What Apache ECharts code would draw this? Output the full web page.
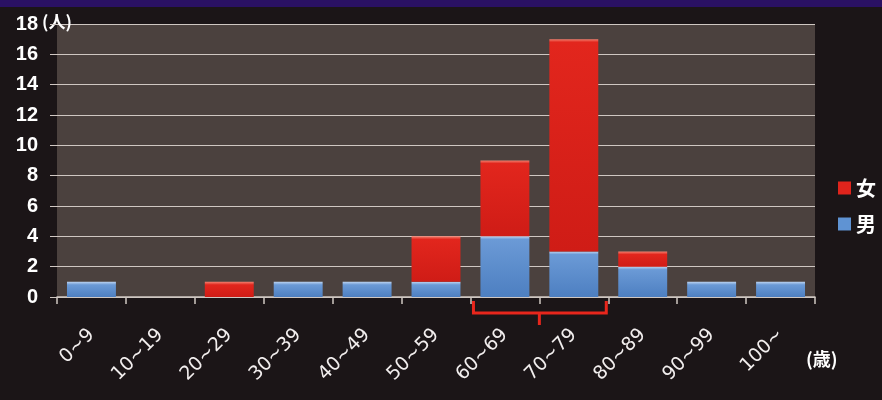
<!DOCTYPE html>
<html>
<head>
<meta charset="utf-8">
<script src="https://cdn.jsdelivr.net/npm/echarts@6/dist/echarts.min.js"></script>
<style>
  html, body { margin: 0; padding: 0; background: #1b1517; }
  #band { position: absolute; left: 0; top: 0; width: 882px; height: 7px; background: #2a1163; }
  #chart { width: 882px; height: 400px; }
</style>
</head>
<body>
<div id="band"></div>
<div id="chart"></div>
<script>
// Age groups and counts of people per group
const categories = ['0~9', '10~19', '20~29', '30~39', '40~49', '50~59', '60~69', '70~79', '80~89', '90~99', '100~'];
const female = [0, 0, 1, 0, 0, 3, 5, 14, 1, 0, 0];
const male   = [1, 0, 0, 1, 1, 1, 4, 3, 2, 1, 1];
const yTicks = [0, 2, 4, 6, 8, 10, 12, 14, 16, 18];
const bracketRange = ['60~69', '70~79'];

const grid = { left: 57, right: 67, top: 24, bottom: 103 };
const yMax = yTicks[yTicks.length - 1];
const pxPerUnit = (400 - grid.top - grid.bottom) / yMax;

// vertical gradient with a thin light band along the top of each segment
function barFill(v, light, base, dark) {
  if (!v) return base;
  const edge = Math.min(0.5, 3 / (v * pxPerUnit));
  return new echarts.graphic.LinearGradient(0, 0, 0, 1, [
    { offset: 0, color: light },
    { offset: edge, color: base },
    { offset: 1, color: dark }
  ]);
}
// empty groups draw no segment at all
const toItem = (light, base, dark) => v =>
  v ? { value: v, itemStyle: { color: barFill(v, light, base, dark) } } : '-';

const chart = echarts.init(document.getElementById('chart'), null, { renderer: 'canvas' });

const option = {
  backgroundColor: 'transparent',
  animation: false,
  grid: Object.assign({ backgroundColor: '#4b413e', show: true, borderWidth: 0 }, grid),
  legend: {
    orient: 'vertical',
    left: 833, top: 173,
    itemWidth: 13, itemHeight: 13, itemGap: 16,
    icon: 'rect',
    data: ['女', '男'],
    textStyle: { color: '#ffffff', fontSize: 20, fontWeight: 'bold', fontFamily: 'Noto Sans CJK JP' }
  },
  xAxis: {
    type: 'category',
    data: categories,
    boundaryGap: true,
    axisLine: { lineStyle: { color: '#cfc7c2', width: 1.5 } },
    axisTick: { show: true, length: 7, lineStyle: { color: '#cfc7c2', width: 1.5 } },
    axisLabel: {
      rotate: 45, margin: 35, interval: 0,
      color: '#f2eeee', fontSize: 19, fontFamily: 'DejaVu Sans'
    }
  },
  yAxis: {
    type: 'value',
    min: 0, max: yMax, interval: 2,
    axisLine: { show: false },
    axisTick: { show: true, length: 7, lineStyle: { color: '#cfc7c2' } },
    splitLine: { lineStyle: { color: '#cfc7c2', width: 1.2 } },
    axisLabel: {
      color: '#ffffff', fontSize: 20, fontWeight: 'bold', fontFamily: 'Liberation Sans', margin: 19
    }
  },
  series: [
    {
      name: '男', type: 'bar', stack: 'total', barCategoryGap: '29%',
      itemStyle: { color: '#5f93d3' },
      data: male.map(toItem('#bcd3f0', '#6b9ad6', '#4d7fc1'))
    },
    {
      name: '女', type: 'bar', stack: 'total', barCategoryGap: '29%',
      itemStyle: { color: '#e0241c' },
      data: female.map(toItem('#f3806f', '#e2261d', '#cf1c16'))
    }
  ]
};
chart.setOption(option);

// unit labels and the red bracket under the highlighted age groups
const c0 = chart.convertToPixel({ xAxisIndex: 0 }, bracketRange[0]);
const c1 = chart.convertToPixel({ xAxisIndex: 0 }, bracketRange[1]);
const band = c1 - c0;
const yBase = chart.convertToPixel({ yAxisIndex: 0 }, 0);
const yTop = chart.convertToPixel({ yAxisIndex: 0 }, yMax);
const bx0 = c0 - band / 2 + 3, bx1 = c1 + band / 2 - 2, by = yBase + 16, mid = (c0 + c1) / 2;

chart.setOption({
  graphic: [
    {
      type: 'text', left: 42, top: yTop - 11,
      style: { text: '(人)', fill: '#ffffff', fontSize: 17, fontWeight: 'bold', fontFamily: 'Noto Sans CJK JP' }
    },
    {
      type: 'text', left: 806, top: yBase + 53,
      style: { text: '(歳)', fill: '#ffffff', fontSize: 18, fontWeight: 'bold', fontFamily: 'Noto Sans CJK JP' }
    },
    {
      type: 'polyline',
      shape: { points: [[bx0, yBase + 4], [bx0, by], [bx1, by], [bx1, yBase + 4]] },
      style: { stroke: '#e8261c', lineWidth: 3, fill: null }
    },
    {
      type: 'line',
      shape: { x1: mid, y1: by, x2: mid, y2: by + 12 },
      style: { stroke: '#e8261c', lineWidth: 3 }
    }
  ]
});
</script>
</body>
</html>
